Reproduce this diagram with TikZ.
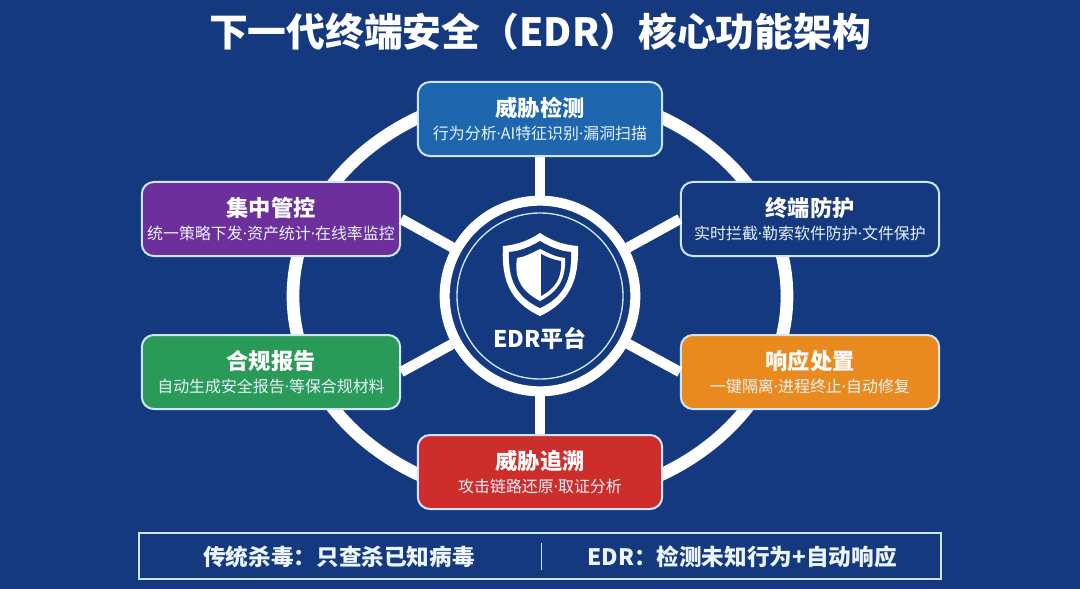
\documentclass[tikz,border=0pt]{standalone}
\usepackage{fontspec}
\setmainfont{Noto Sans CJK SC}
\newfontfamily\dotfont{Noto Sans}
\definecolor{bgblue}{HTML}{15397F}
\definecolor{edgeblue}{HTML}{CFE6F8}
\definecolor{detectblue}{HTML}{1E66AD}
\definecolor{guardnavy}{HTML}{15397F}
\definecolor{respondorange}{HTML}{E98A1E}
\definecolor{tracered}{HTML}{CD2E2C}
\definecolor{reportgreen}{HTML}{2A9A58}
\definecolor{managepurple}{HTML}{6C2F9B}
\tikzset{
  wheel/.style={draw=white,line width=3.8mm},
  spoke/.style={draw=white,line width=3.1mm},
  card/.style={rounded corners=0.36cm,draw=edgeblue,line width=0.6mm,text=white,
    minimum width=7.75cm,minimum height=2.22cm,align=center,inner sep=0pt},
  midcard/.style={card,minimum width=7.33cm},
}
\newcommand{\dd}{{\dotfont ·}}
\newcommand{\cardtext}[2]{{\fontsize{19}{23}\selectfont\bfseries #1}\\[5pt]{\fontsize{13.6}{16}\selectfont\color{edgeblue!50!white} #2}}
\begin{document}
\begin{tikzpicture}[x=0.03cm,y=-0.03cm]
 \useasboundingbox (0,0) rectangle (1080,589);
 \fill[bgblue] (0,0) rectangle (1080,589);
 \node[text=white,font=\fontsize{33.1}{40}\selectfont\bfseries] (title) at (540,32) {下一代终端安全（EDR）核心功能架构};
 \coordinate (c) at (540,296);
 \draw[wheel] (c) ellipse [x radius=247,y radius=205];
 % the six cards
 \node[midcard,fill=detectblue] (detect) at (540,119) {\cardtext{威胁检测}{行为分析\dd AI特征识别\dd 漏洞扫描}};
 \node[card,fill=guardnavy] (guard) at (810,219) {\cardtext{终端防护}{实时拦截\dd 勒索软件防护\dd 文件保护}};
 \node[card,fill=respondorange] (respond) at (810,372) {\cardtext{响应处置}{一键隔离\dd 进程终止\dd 自动修复}};
 \node[midcard,fill=tracered] (trace) at (540,472) {\cardtext{威胁追溯}{攻击链路还原\dd 取证分析}};
 \node[card,fill=reportgreen] (report) at (271,372) {\cardtext{合规报告}{自动生成安全报告\dd 等保合规材料}};
 \node[card,fill=managepurple] (manage) at (271,219) {\cardtext{集中管控}{统一策略下发\dd 资产统计\dd 在线率监控}};
 % hub
 \node[circle,draw=white,line width=3mm,minimum size=5.72cm,inner sep=0pt] (hub) at (c) {};
 \draw[edgeblue,line width=0.4mm] (c) circle [radius=83];
 \foreach \n in {detect.south,guard.west,respond.west,trace.north,report.east,manage.east}
  \draw[spoke] (hub) -- (\n);
 % shield
 \fill[white] (540,233) .. controls (552,241) and (564,245) .. (578,246)
   .. controls (579,280) and (570,302) .. (540,316)
   .. controls (510,302) and (501,280) .. (503,246)
   .. controls (516,245) and (528,241) .. (540,233) -- cycle;
 \fill[bgblue] (540,241) .. controls (550,247) and (560,251) .. (571,252)
   .. controls (572,279) and (564,297) .. (540,308)
   .. controls (516,297) and (508,279) .. (509,252)
   .. controls (520,251) and (530,247) .. (540,241) -- cycle;
 \fill[white] (540,249) .. controls (550,254) and (556,257) .. (565,258)
   .. controls (566,278) and (559,291) .. (540,301)
   .. controls (521,291) and (514,278) .. (517,258)
   .. controls (524,257) and (530,254) .. (540,249) -- cycle;
 \fill[bgblue] (541,254) .. controls (549,258) and (554,260) .. (561,261)
   .. controls (562,277) and (556,288) .. (541,296) -- cycle;
 \node[text=white,font=\fontsize{19.6}{24}\selectfont\bfseries] (hublabel) at (540,338) {EDR平台};
 % bottom bar
 \node[draw=edgeblue,line width=0.5mm,minimum width=24.05cm,minimum height=1.37cm,inner sep=0pt] (bar) at (540,556) {};
 \node[text=edgeblue!40!white,font=\fontsize{19.3}{23}\selectfont\bfseries] (oldway) at (339,557) {传统杀毒：只查杀已知病毒};
 \node[text=edgeblue!40!white,font=\fontsize{19.3}{23}\selectfont\bfseries] (newway) at (742,557) {EDR：检测未知行为+自动响应};
 \coordinate (divtop) at (541,543);
 \coordinate (divbot) at (541,570);
 \draw[edgeblue,line width=0.3mm] (divtop) -- (divbot);
\end{tikzpicture}
\end{document}
